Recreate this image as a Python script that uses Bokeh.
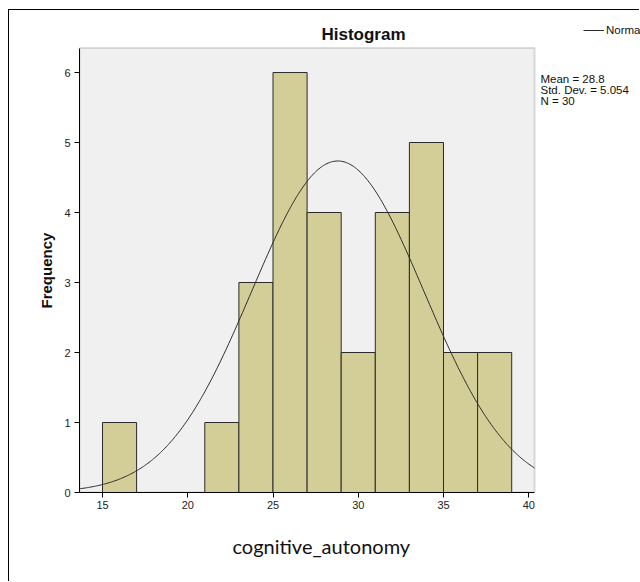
import numpy as np
from bokeh.plotting import figure
from bokeh.models import (Label, Range1d, FixedTicker, Legend, LegendItem,
                          BoxAnnotation, Title)
from bokeh.embed import file_html
from bokeh.resources import INLINE

# ---- data ----
bin_left = [15, 21, 23, 25, 27, 29, 31, 33, 35, 37]
bin_right = [17, 23, 25, 27, 29, 31, 33, 35, 37, 39]
counts = [1, 1, 3, 6, 4, 2, 4, 5, 2, 2]
mean = 28.8
std = 5.054
n = 30
bin_width = 2
x_ticks = [15, 20, 25, 30, 35, 40]
y_ticks = [0, 1, 2, 3, 4, 5, 6]
stats_lines = ["Mean = 28.8", "Std. Dev. = 5.054", "N = 30"]

# axis extents of the chart area (data units)
x_lo, x_hi = 13.651, 40.34
y_lo, y_hi = 0, 6.35

W, H = 631, 572
p = figure(width=W, height=H, output_backend="svg", toolbar_location=None,
           x_range=Range1d(x_lo, 46.554), y_range=Range1d(y_lo, 6.886),
           min_border_left=70, min_border_right=0, min_border_top=0, min_border_bottom=90)
p.styles = {"position": "relative", "left": "9px", "top": "10px",
            "box-shadow": "-1px -1px 0 0 #000000"}

p.background_fill_color = "white"
p.border_fill_color = "white"
p.outline_line_color = None
p.grid.visible = False

# chart background
p.add_layout(BoxAnnotation(left=x_lo, right=x_hi, bottom=y_lo, top=y_hi,
                           fill_color="#f0f0f0", fill_alpha=1,
                           line_color="#8f8f8f", line_width=2, level="underlay"))

p.quad(left=bin_left, right=bin_right, bottom=0, top=counts,
       fill_color="#d3ce97", line_color="#2a2a2a", line_width=1)

xs = np.linspace(x_lo, x_hi, 400)
ys = n * bin_width * np.exp(-0.5 * ((xs - mean) / std) ** 2) / (std * np.sqrt(2 * np.pi))
curve = p.line(xs, ys, line_color="#2b2b2b", line_width=1)

for ax in (p.xaxis[0], p.yaxis[0]):
    ax.axis_line_color = "black"
    ax.major_tick_line_color = "black"
    ax.major_tick_out = 5
    ax.major_tick_in = 0
    ax.minor_tick_line_color = None
    ax.major_label_text_font = "Liberation Sans"
    ax.major_label_text_font_size = "11px"
    ax.major_label_text_color = "#222222"

p.xaxis.ticker = FixedTicker(ticks=x_ticks)
p.yaxis.ticker = FixedTicker(ticks=y_ticks)
p.xaxis.bounds = (x_lo, x_hi)
p.yaxis.bounds = (y_lo, y_hi)
p.yaxis.major_label_standoff = 4
p.xaxis.major_label_standoff = 3

# axis titles
p.add_layout(Title(text="Frequency", align="left", offset=184, text_font="Liberation Sans",
                   text_font_size="15px", text_font_style="bold", text_color="#111111",
                   standoff=13), "left")
p.add_layout(Title(text="cognitive_autonomy", align="left", offset=153, text_font="Lato",
                   text_font_size="20px", text_font_style="normal", text_color="#111111",
                   standoff=40), "below")

# chart title
p.add_layout(Label(x=284, y=458, x_units="screen", y_units="screen", text="Histogram",
                   text_font="Liberation Sans", text_font_size="17px", text_font_style="bold",
                   text_align="center", text_baseline="middle", text_color="#111111"))

# statistics block
for i, s in enumerate(stats_lines):
    p.add_layout(Label(x=461, y=413.5 - 11 * i, x_units="screen", y_units="screen", text=s,
                       text_font="Liberation Sans", text_font_size="11.5px",
                       text_align="left", text_baseline="middle", text_color="#111111"))

# legend for the normal curve (cut at the right edge, as in the source image)
leg = Legend(items=[LegendItem(label="Normal", renderers=[curve])], location=(504, 452),
             border_line_color=None, background_fill_alpha=0, label_text_font="Liberation Sans",
             label_text_font_size="11.5px", label_text_color="#111111",
             glyph_width=21, label_standoff=2, padding=0, margin=0)
p.add_layout(leg, "center")

html = file_html(p, INLINE)
open("out.html", "w").write(html)
